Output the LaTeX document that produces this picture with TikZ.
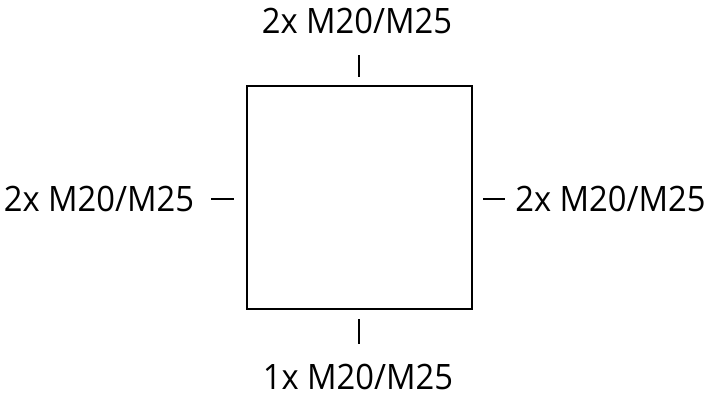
\documentclass[tikz,border=0pt]{standalone}
\usepackage{fontspec}
\setmainfont{Open Sans}
\begin{document}
\begin{tikzpicture}[x=1pt,y=-1pt,
  lbl/.style={inner sep=0pt,anchor=base,xscale=0.935,font=\fontsize{35}{40}\selectfont},
  tick/.style={line width=2.2pt},
  boxst/.style={draw,line width=2.2pt,inner sep=0pt,minimum width=225pt,minimum height=223pt}]
\useasboundingbox (0,0) rectangle (714,400);
\node[boxst] (box) at (359.5,197.5) {};
\coordinate (t1) at (359,55); \coordinate (t2) at (359,77);
\coordinate (b1) at (359,319); \coordinate (b2) at (359,344);
\coordinate (l1) at (211,199); \coordinate (l2) at (234,199);
\coordinate (r1) at (483,199); \coordinate (r2) at (505,199);
\draw[tick] (t1) -- (t2);
\draw[tick] (b1) -- (b2);
\draw[tick] (l1) -- (l2);
\draw[tick] (r1) -- (r2);
\node[lbl] (top) at (357,33) {2x M20/M25};
\node[lbl] (bot) at (358,389) {1x M20/M25};
\node[lbl] (left) at (99,211) {2x M20/M25};
\node[lbl] (right) at (610.5,211) {2x M20/M25};
\end{tikzpicture}
\end{document}
